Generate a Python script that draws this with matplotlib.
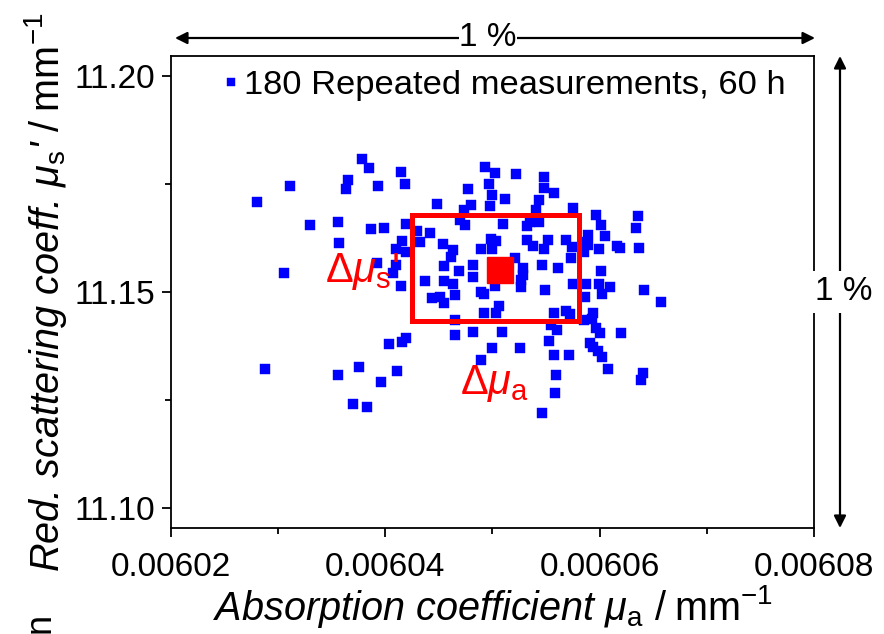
import matplotlib
matplotlib.use("Agg")
import matplotlib.pyplot as plt
from matplotlib.patches import Rectangle
from matplotlib.ticker import FixedLocator, FormatStrFormatter

plt.rcParams['font.family'] = ['Liberation Sans', 'DejaVu Sans']
plt.rcParams['mathtext.fontset'] = 'custom'
plt.rcParams['mathtext.rm'] = 'Liberation Sans'
plt.rcParams['mathtext.it'] = 'Liberation Sans:italic'
plt.rcParams['mathtext.bf'] = 'Liberation Sans:bold'

# absorption coefficient mu_a (mm^-1) of each repeated measurement
mua = [0.0060280, 0.0060311, 0.0060305, 0.0060288, 0.0060330, 0.0060356, 0.0060357, 0.0060363,
       0.0060365, 0.0060378, 0.0060385, 0.0060393, 0.0060387, 0.0060399, 0.0060415, 0.0060418,
       0.0060419, 0.0060416, 0.0060419, 0.0060410, 0.0060392, 0.0060410, 0.0060407, 0.0060415,
       0.0060356, 0.0060375, 0.0060396, 0.0060411, 0.0060370, 0.0060383, 0.0060403, 0.0060416,
       0.0060419, 0.0060430, 0.0060442, 0.0060432, 0.0060454, 0.0060463, 0.0060461, 0.0060455,
       0.0060469, 0.0060482, 0.0060482, 0.0060437, 0.0060455, 0.0060463, 0.0060444, 0.0060451,
       0.0060455, 0.0060465, 0.0060489, 0.0060492, 0.0060492, 0.0060503, 0.0060506, 0.0060502,
       0.0060465, 0.0060465, 0.0060482, 0.0060509, 0.0060500, 0.0060489, 0.0060526, 0.0060546,
       0.0060448, 0.0060477, 0.0060480, 0.0060473, 0.0060470, 0.0060474, 0.0060493, 0.0060502,
       0.0060497, 0.0060500, 0.0060498, 0.0060512, 0.0060522, 0.0060548, 0.0060548, 0.0060557,
       0.0060543, 0.0060541, 0.0060575, 0.0060510, 0.0060532, 0.0060535, 0.0060543, 0.0060499,
       0.0060503, 0.0060489, 0.0060500, 0.0060532, 0.0060538, 0.0060548, 0.0060521, 0.0060528,
       0.0060528, 0.0060527, 0.0060527, 0.0060546, 0.0060549, 0.0060597, 0.0060636, 0.0060601,
       0.0060634, 0.0060589, 0.0060605, 0.0060552, 0.0060569, 0.0060574, 0.0060585, 0.0060589,
       0.0060585, 0.0060599, 0.0060616, 0.0060619, 0.0060637, 0.0060573, 0.0060561, 0.0060601,
       0.0060575, 0.0060587, 0.0060599, 0.0060610, 0.0060602, 0.0060641, 0.0060657, 0.0060586,
       0.0060557, 0.0060569, 0.0060572, 0.0060594, 0.0060585, 0.0060593, 0.0060555, 0.0060560,
       0.0060597, 0.0060600, 0.0060620, 0.0060553, 0.0060591, 0.0060594, 0.0060598, 0.0060602,
       0.0060557, 0.0060571, 0.0060608, 0.0060640, 0.0060639, 0.0060559, 0.0060558]

# reduced scattering coefficient mu_s' (mm^-1)
mus = [11.1708, 11.1745, 11.1543, 11.1322, 11.1654, 11.1662, 11.1612, 11.1739,
       11.1759, 11.1808, 11.1787, 11.1744, 11.1646, 11.1647, 11.1777, 11.1749,
       11.1656, 11.1618, 11.1593, 11.1599, 11.1566, 11.1561, 11.1544, 11.1514,
       11.1308, 11.1326, 11.1292, 11.1317, 11.1239, 11.1234, 11.1380, 11.1384,
       11.1392, 11.1641, 11.1635, 11.1615, 11.1611, 11.1597, 11.1581, 11.1560,
       11.1549, 11.1561, 11.1534, 11.1525, 11.1526, 11.1519, 11.1486, 11.1489,
       11.1473, 11.1493, 11.1500, 11.1495, 11.1452, 11.1450, 11.1468, 11.1514,
       11.1434, 11.1399, 11.1407, 11.1408, 11.1370, 11.1341, 11.1370, 11.1219,
       11.1704, 11.1737, 11.1702, 11.1689, 11.1667, 11.1654, 11.1788, 11.1774,
       11.1750, 11.1723, 11.1698, 11.1714, 11.1772, 11.1766, 11.1741, 11.1728,
       11.1712, 11.1689, 11.1694, 11.1657, 11.1652, 11.1661, 11.1662, 11.1623,
       11.1617, 11.1600, 11.1599, 11.1619, 11.1606, 11.1599, 11.1579, 11.1556,
       11.1540, 11.1527, 11.1510, 11.1562, 11.1504, 11.1677, 11.1675, 11.1655,
       11.1647, 11.1631, 11.1629, 11.1620, 11.1620, 11.1604, 11.1616, 11.1609,
       11.1593, 11.1600, 11.1606, 11.1602, 11.1602, 11.1579, 11.1554, 11.1547,
       11.1517, 11.1518, 11.1517, 11.1512, 11.1495, 11.1504, 11.1477, 11.1488,
       11.1452, 11.1456, 11.1448, 11.1452, 11.1435, 11.1436, 11.1422, 11.1411,
       11.1416, 11.1404, 11.1405, 11.1387, 11.1382, 11.1372, 11.1364, 11.1350,
       11.1353, 11.1353, 11.1321, 11.1311, 11.1295, 11.1308, 11.1266]

# mean value and spread (range box)
mean_mua = 0.0060507
mean_mus = 11.1550
box_mua = [0.0060425, 0.0060581]
box_mus = [11.1432, 11.1678]

xticks = [0.00602, 0.00604, 0.00606, 0.00608]
yticks = [11.10, 11.15, 11.20]

W, H = 884, 634
fig = plt.figure(figsize=(W / 100, H / 100), dpi=100)
ax = fig.add_axes([171 / W, 1 - 528 / H, (814 - 171) / W, (528 - 56) / H])

ax.plot(mua, mus, ls='none', marker='s', ms=7.0, mfc='#0000ff', mec='#0000ff', mew=0.3,
        label='180 Repeated measurements, 60 h', zorder=3)
ax.add_patch(Rectangle((box_mua[0], box_mus[0]), box_mua[1] - box_mua[0], box_mus[1] - box_mus[0],
                       fill=False, ec='#ff0000', lw=3.6, zorder=4))
ax.plot([mean_mua], [mean_mus], ls='none', marker='s', ms=19, mfc='#ff0000', mec='#ff0000', zorder=5)

ax.set_xlim(0.00602, 0.00608)
ax.set_ylim(11.0953, 11.2046)
ax.xaxis.set_major_locator(FixedLocator(xticks))
ax.yaxis.set_major_locator(FixedLocator(yticks))
ax.xaxis.set_minor_locator(FixedLocator([0.00603, 0.00605, 0.00607]))
ax.yaxis.set_minor_locator(FixedLocator([11.125, 11.175]))
ax.xaxis.set_major_formatter(FormatStrFormatter('%.5f'))
ax.yaxis.set_major_formatter(FormatStrFormatter('%.2f'))
ax.tick_params(which='both', direction='out', width=1.3, labelsize=24, colors='black')
ax.tick_params(which='major', length=6.5)
ax.tick_params(axis='x', which='major', pad=11)
ax.tick_params(axis='y', which='major', pad=5)
ax.tick_params(which='minor', length=4.3)
for s in ax.spines.values():
    s.set_linewidth(1.3)

ax.set_xlabel(r"Absorption coefficient $\mu_\mathrm{a}$ $\mathrm{/\;mm^{-1}}$",
              fontsize=28.5, fontstyle='italic', labelpad=0)
ax.set_ylabel(r"Red. scattering coeff. $\mu_\mathrm{s}$' $\mathrm{/\;mm^{-1}}$",
              fontsize=28.5, fontstyle='italic', labelpad=4)

ax.legend(loc='upper left', bbox_to_anchor=(0.05, 1.015), frameon=False, fontsize=24.8,
          handlelength=0.4, handletextpad=0.2, markerscale=0.85, borderaxespad=0.2)

ax.text(0.0060413, 11.1548, r"$\mathit{\Delta}\mu_\mathrm{s}$'", color='#ff0000', fontsize=30,
        ha='right', va='center')
ax.text(0.0060502, 11.1287, r"$\mathit{\Delta}\mu_\mathrm{a}$", color='#ff0000', fontsize=30,
        ha='center', va='center')

# 1 % arrows
arrow = dict(arrowstyle='<|-|>', color='black', lw=1.6, mutation_scale=18, shrinkA=0, shrinkB=0)
ya = 1 - 38 / H
ax.annotate('', xy=(175 / W, ya), xytext=(815 / W, ya), xycoords='figure fraction',
            textcoords='figure fraction', arrowprops=arrow, annotation_clip=False)
fig.text(488 / W, ya, '1 %', ha='center', va='center', fontsize=24,
         bbox=dict(fc='white', ec='none', pad=0.5))
xa = 840 / W
ax.annotate('', xy=(xa, 1 - 56 / H), xytext=(xa, 1 - 528 / H), xycoords='figure fraction',
            textcoords='figure fraction', arrowprops=arrow, annotation_clip=False)
fig.text(xa + 4 / W, 1 - 292 / H, '1 %', ha='center', va='center', fontsize=24,
         bbox=dict(fc='white', ec='none', pad=4))

# fragment of neighbouring panel label at the bottom edge
fig.text(40 / W, 1 / H, 'n', rotation=90, fontsize=26, ha='center', va='bottom')

fig.savefig('out.png', dpi=100)
